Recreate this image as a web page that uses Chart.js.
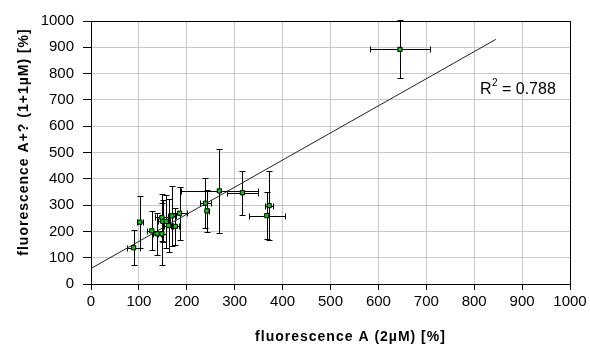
<!DOCTYPE html>
<html>
<head>
<meta charset="utf-8">
<script src="https://cdn.jsdelivr.net/npm/chart.js@4.4.1/dist/chart.umd.min.js"></script>
<style>
  html, body { margin: 0; padding: 0; background: #fff; }
  #wrap { width: 590px; height: 347px; position: relative; }
</style>
</head>
<body>
<div id="wrap"><canvas id="c"></canvas></div>
<script>
// values
const xVals = [89, 102, 127, 138, 148, 148, 150, 157, 162, 169, 176, 185, 239, 242, 268, 316, 372, 367, 645];
const yVals = [138, 235, 202, 191, 191, 253, 238, 238, 222, 259, 219, 269, 307, 278, 354, 347, 298, 260, 892];
const xErr  = [14, 7, 10, 8, 8, 15, 10, 8, 10, 8, 8, 15, 12, 5, 81, 32, 8, 37, 62];
const yErr  = [66, 100, 74, 80, 118, 90, 80, 100, 100, 115, 70, 100, 95, 80, 160, 83, 130, 88, 110];

const trendX = [0, 845];
const trendY = [59, 930];

const xTicks = [0, 100, 200, 300, 400, 500, 600, 700, 800, 900, 1000];
const yTicks = [0, 100, 200, 300, 400, 500, 600, 700, 800, 900, 1000];

const xTitle = 'fluorescence A (2\u00b5M) [%]';
const yTitle = 'fluorescence A+? (1+1\u00b5M) [%]';
const r2Label = { x: 812, y: 740, value: '0.788' };

const points = xVals.map((x, i) => ({ x: x, y: yVals[i] }));
const trend = trendX.map((x, i) => ({ x: x, y: trendY[i] }));

const errorBars = {
  id: 'errorBars',
  beforeDatasetsDraw(chart) {
    const { ctx, scales: { x, y } } = chart;
    ctx.save();
    ctx.strokeStyle = '#000';
    ctx.lineWidth = 1;
    const cap = 3;
    xVals.forEach((xv, i) => {
      const px = Math.round(x.getPixelForValue(xv)) + 0.5;
      const py = Math.round(y.getPixelForValue(yVals[i])) + 0.5;
      const top = Math.round(y.getPixelForValue(yVals[i] + yErr[i])) + 0.5;
      const bot = Math.round(y.getPixelForValue(yVals[i] - yErr[i])) + 0.5;
      const lft = Math.round(x.getPixelForValue(xv - xErr[i])) + 0.5;
      const rgt = Math.round(x.getPixelForValue(xv + xErr[i])) + 0.5;
      ctx.beginPath();
      ctx.moveTo(px, top); ctx.lineTo(px, bot);
      ctx.moveTo(px - cap, top); ctx.lineTo(px + cap, top);
      ctx.moveTo(px - cap, bot); ctx.lineTo(px + cap, bot);
      ctx.moveTo(lft, py); ctx.lineTo(rgt, py);
      ctx.moveTo(lft, py - cap); ctx.lineTo(lft, py + cap);
      ctx.moveTo(rgt, py - cap); ctx.lineTo(rgt, py + cap);
      ctx.stroke();
    });
    ctx.restore();
  }
};

const labels = {
  id: 'labels',
  afterDraw(chart) {
    const { ctx, chartArea, scales: { x, y } } = chart;
    ctx.save();
    ctx.fillStyle = '#000';
    ctx.textBaseline = 'middle';
    // axis titles
    ctx.font = 'bold 14px "Liberation Sans", Arial, sans-serif';
    ctx.letterSpacing = '1px';
    ctx.textAlign = 'center';
    ctx.fillText(xTitle, (chartArea.left + chartArea.right) / 2 + 20, 337);
    ctx.translate(24, 142);
    ctx.rotate(-Math.PI / 2);
    ctx.fillText(yTitle, 0, 0);
    ctx.setTransform(1, 0, 0, 1, 0, 0);
    // R squared
    ctx.letterSpacing = '0px';
    ctx.textAlign = 'left';
    const px = x.getPixelForValue(r2Label.x);
    const py = y.getPixelForValue(r2Label.y);
    ctx.font = '16px "Liberation Sans", Arial, sans-serif';
    ctx.fillText('R', px, py);
    const w = ctx.measureText('R').width;
    ctx.font = '10px "Liberation Sans", Arial, sans-serif';
    ctx.fillText('2', px + w + 0.5, py - 6);
    ctx.font = '16px "Liberation Sans", Arial, sans-serif';
    ctx.fillText(' = ' + r2Label.value, px + w + 6, py);
    ctx.restore();
  }
};

const darkAt1000 = (ctx) => (ctx.tick && ctx.tick.value === 1000) ? '#000' : '#c8c8c8';

new Chart(document.getElementById('c'), {
  type: 'scatter',
  data: {
    datasets: [
      {
        type: 'line',
        data: trend,
        borderColor: '#222',
        borderWidth: 1,
        pointRadius: 0,
        fill: false,
        order: 2
      },
      {
        data: points,
        pointStyle: 'rect',
        pointRadius: 3,
        backgroundColor: '#00d000',
        borderColor: '#000',
        borderWidth: 1,
        order: 1
      }
    ]
  },
  options: {
    responsive: true,
    maintainAspectRatio: false,
    animation: false,
    events: [],
    layout: { padding: { left: 0, right: 20, top: 21, bottom: 0 } },
    plugins: { legend: { display: false }, tooltip: { enabled: false } },
    scales: {
      x: {
        type: 'linear',
        min: 0, max: 1000,
        afterBuildTicks: (s) => { s.ticks = xTicks.map(v => ({ value: v })); },
        afterFit: (s) => { s.height = 63; },
        border: { color: '#000', width: 1 },
        grid: { color: darkAt1000, tickColor: '#000', tickLength: 6, lineWidth: 1 },
        ticks: { color: '#000', padding: 3, maxRotation: 0, callback: (v) => String(v), font: { family: '"Liberation Sans", Arial, sans-serif', size: 15 } }
      },
      y: {
        type: 'linear',
        min: 0, max: 1000,
        afterBuildTicks: (s) => { s.ticks = yTicks.map(v => ({ value: v })); },
        afterFit: (s) => { s.width = 91; },
        border: { color: '#000', width: 1 },
        grid: { color: darkAt1000, tickColor: '#000', tickLength: 8, lineWidth: 1 },
        ticks: { color: '#000', padding: 9, callback: (v) => String(v), font: { family: '"Liberation Sans", Arial, sans-serif', size: 15 } }
      }
    }
  },
  plugins: [errorBars, labels]
});
</script>
</body>
</html>
